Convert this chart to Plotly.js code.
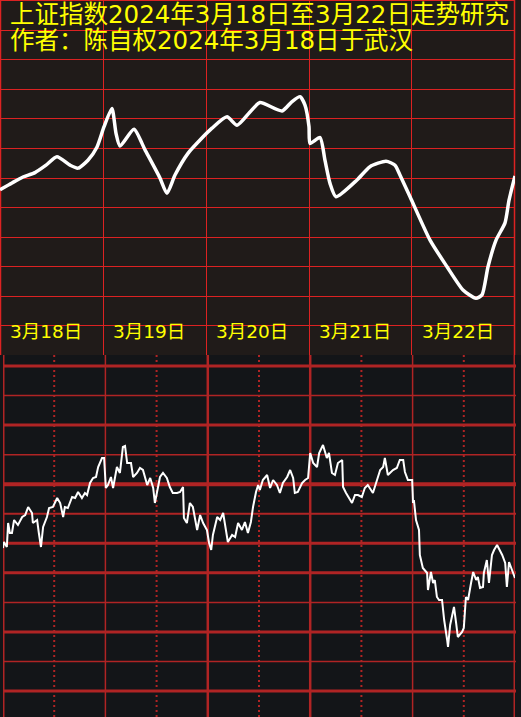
<!DOCTYPE html>
<html>
<head>
<meta charset="utf-8">
<script src="https://cdn.plot.ly/plotly-3.0.1.min.js"></script>
<style>html,body{margin:0;padding:0;background:#131518;}#chart{width:521px;height:717px;}</style>
</head>
<body>
<div id="chart"></div>
<script>
// ---- data ----
const titleLines = ['上证指数2024年3月18日至3月22日走势研究', '作者：陈自权2024年3月18日于武汉'];
const dateLabels = ['3月18日', '3月19日', '3月20日', '3月21日', '3月22日'];

// top panel: smoothed trend, x in trading days (0..5), y index level
const trendDays = [0, 0.117, 0.223, 0.340, 0.447, 0.553, 0.680, 0.757, 0.854, 0.942, 1.010, 1.087, 1.126, 1.165, 1.301, 1.408, 1.553, 1.621, 1.699, 1.825, 1.942, 2.058, 2.204, 2.301, 2.427, 2.524, 2.738, 2.835, 2.913, 2.961, 3.0, 3.010, 3.107, 3.155, 3.204, 3.262, 3.466, 3.592, 3.748, 3.835, 3.883, 3.981, 4.175, 4.340, 4.495, 4.621, 4.680, 4.738, 4.816, 4.903, 4.942, 5.0];
const trendValues = [3063.5, 3064.9, 3066.1, 3067.0, 3068.5, 3070.2, 3068.5, 3067.9, 3069.5, 3072.2, 3076.3, 3080.0, 3075.0, 3072.4, 3075.8, 3071.6, 3065.9, 3062.8, 3066.5, 3070.9, 3073.6, 3076.0, 3078.3, 3076.6, 3079.3, 3081.2, 3079.5, 3081.4, 3082.4, 3080.7, 3076.3, 3072.9, 3074.1, 3069.5, 3064.8, 3062.1, 3065.5, 3068.2, 3069.3, 3068.5, 3066.5, 3062.1, 3053.3, 3047.9, 3043.2, 3041.5, 3042.2, 3047.9, 3053.3, 3056.8, 3061.4, 3066.3];

// bottom panel: intraday, x in trading minutes (0..1200), y index level
const minuteIdx = [0, 2, 9, 12, 16, 21, 26, 35, 45, 52, 59, 68, 70, 80, 84, 89, 94, 103, 108, 117, 127, 134, 141, 145, 152, 162, 169, 176, 185, 192, 197, 204, 211, 218, 223, 232, 237,
  241, 246, 253, 258, 267, 274, 281, 286, 291, 300, 305, 314, 321, 328, 338, 345, 352, 356, 361, 368, 375, 384, 391, 398, 408, 415, 422, 424, 431, 438, 445, 455, 462, 469, 478,
  483, 488, 492, 502, 509, 516, 523, 527, 537, 544, 551, 560, 567, 574, 581, 586, 593, 598, 602, 609, 619, 626, 633, 642, 649, 656, 666, 673, 680, 684, 691, 701, 708, 715,
  720, 727, 736, 741, 750, 759, 764, 771, 778, 785, 795, 797, 804, 809, 818, 825, 832, 841, 848, 855, 867, 884, 891, 895, 902, 914, 923, 930, 938, 942, 949, 959,
  961, 963, 968, 975, 977, 984, 994, 996, 1003, 1008, 1012, 1017, 1022, 1029, 1034, 1041, 1043, 1048, 1055, 1057, 1062, 1066, 1076, 1080, 1085, 1090, 1097, 1102, 1109, 1113, 1118, 1125, 1127, 1134, 1139, 1146, 1151, 1158, 1170, 1177, 1181, 1186, 1193, 1200];
const minuteValues = [3060.25, 3061.75, 3060.5, 3066.5, 3064, 3064, 3067.25, 3066, 3068, 3068.5, 3070.5, 3069, 3066.5, 3067.25, 3064, 3060.5, 3065.5, 3068, 3070.25, 3070.5, 3072.75, 3071.5, 3068, 3070.5, 3070.25, 3073, 3072.75, 3074.25, 3072.75, 3074, 3073.5, 3076.5, 3077.75, 3078, 3080.5, 3082.75, 3082.75,
  3075.25, 3076, 3078, 3075.25, 3080.5, 3079, 3085.5, 3085.75, 3081.5, 3081.5, 3078, 3079, 3080.25, 3079.75, 3076, 3077.75, 3075.25, 3071.5, 3074.25, 3078, 3079, 3077.75, 3075.5, 3074, 3074, 3074.25, 3075.5, 3067.75, 3066.5, 3071.5, 3070.5, 3064.75, 3068.5, 3066.5, 3064.75,
  3061.5, 3059.75, 3063.5, 3068, 3067.25, 3069, 3064.25, 3061.75, 3063.5, 3063, 3066.5, 3064.75, 3066.75, 3064, 3066.75, 3070.5, 3074.25, 3076, 3074.75, 3077.25, 3078.5, 3075.25, 3077.25, 3076, 3074, 3076.5, 3078, 3079.75, 3077.75, 3074, 3074.25, 3076.5, 3077.25, 3077.75,
  3084, 3081.5, 3080.5, 3084, 3086, 3082.75, 3084, 3079, 3078.5, 3081.5, 3082.25, 3075.5, 3074, 3073, 3071.5, 3073.5, 3073.5, 3073, 3075.25, 3076, 3074, 3079.75, 3080.5, 3082.75, 3078.5, 3079.75, 3080.25, 3082.25, 3082.25, 3079.25, 3077.25, 3077.25,
  3071.5, 3072.25, 3067.25, 3064.75, 3058.5, 3055.25, 3054, 3049.75, 3054.25, 3051.5, 3052.25, 3048, 3047.25, 3047.25, 3042.25, 3037.25, 3035.5, 3041, 3044, 3045.5, 3041.5, 3038, 3039.25, 3040.25, 3048, 3047.25, 3051.5, 3054.25, 3052.25, 3053, 3050.25, 3050.5, 3054, 3057.25, 3051.5, 3058.5, 3059.75, 3061, 3058.5, 3056.5, 3050.5, 3056.75, 3054.75, 3052.75];

// ---- layout ----
const W = 521, H = 717;
const splitPx = 355;
const split = 1 - splitPx / H;
const px = v => v / W;
const py = v => 1 - v / H;

const shapes = [];
// panel backgrounds
shapes.push({type: 'rect', xref: 'paper', yref: 'paper', x0: 0, x1: 1, y0: split, y1: 1, fillcolor: '#201b19', line: {width: 0}, layer: 'below'});
shapes.push({type: 'rect', xref: 'paper', yref: 'paper', x0: 0, x1: 1, y0: 0, y1: split, fillcolor: '#131518', line: {width: 0}, layer: 'below'});

// top panel grid and borders
const topRed = '#dc2222';
for (let k = 1; k <= 11; k++) {
  const yy = 355 - k * 29.58;
  shapes.push({type: 'line', xref: 'paper', yref: 'paper', x0: 0, x1: px(515), y0: py(Math.round(yy) + 0.5), y1: py(Math.round(yy) + 0.5), line: {color: topRed, width: 1}, layer: 'below'});
}
[0.5, 103.5, 206.5, 309.5, 411.5, 514.5].forEach(xx => {
  shapes.push({type: 'line', xref: 'paper', yref: 'paper', x0: px(xx), x1: px(xx), y0: split, y1: 1, line: {color: topRed, width: xx < 1 || xx > 514 ? 1.5 : 1}, layer: 'below'});
});
shapes.push({type: 'line', xref: 'paper', yref: 'paper', x0: 0, x1: px(515), y0: py(0.5), y1: py(0.5), line: {color: topRed, width: 1}, layer: 'below'});

// bottom panel grid
const botRed = '#b02424';
const hWidths = [3, 1.5, 3, 1.5, 4, 2, 3, 3, 1.5, 3, 1.5, 3];
hWidths.forEach((w, i) => {
  const y = 366 + i * 29.55;
  shapes.push({type: 'line', xref: 'paper', yref: 'paper', x0: px(3), x1: px(516), y0: py(y), y1: py(y), line: {color: botRed, width: w}, layer: 'below'});
});
const vSolid = [[0, 3], [240, 1.5], [480, 2.5], [720, 2.5], [960, 1.5], [1200, 3]];
vSolid.forEach(([m, w]) => {
  shapes.push({type: 'line', xref: 'x2', yref: 'paper', x0: m, x1: m, y0: 0, y1: split, line: {color: botRed, width: w}, layer: 'below'});
});
[120, 360, 600, 840, 1080].forEach(m => {
  shapes.push({type: 'line', xref: 'x2', yref: 'paper', x0: m, x1: m, y0: 0, y1: split, line: {color: botRed, width: 2, dash: '2px,3px'}, layer: 'below'});
});

const annotations = [];
const yellow = '#ffff00';
const textFamily = 'DejaVu Sans, Noto Sans CJK SC';
titleLines.forEach((t, i) => {
  annotations.push({text: t, xref: 'paper', yref: 'paper', x: px(9), y: py(i === 0 ? 14.5 : 40.5), xanchor: 'left', yanchor: 'middle', showarrow: false,
    borderpad: 0, font: {family: textFamily, size: 24.5, color: yellow}});
});
dateLabels.forEach((t, i) => {
  annotations.push({text: t, xref: 'x', yref: 'paper', x: i + 0.08, y: py(331), xanchor: 'left', yanchor: 'middle', showarrow: false,
    font: {family: textFamily, size: 18.5, color: yellow}});
});

const traces = [
  {x: trendDays, y: trendValues, xaxis: 'x', yaxis: 'y', type: 'scatter', mode: 'lines',
   line: {color: '#ffffff', width: 3.5, shape: 'spline', smoothing: 0.6}, hoverinfo: 'skip'},
  {x: minuteIdx, y: minuteValues, xaxis: 'x2', yaxis: 'y2', type: 'scatter', mode: 'lines',
   line: {color: '#ffffff', width: 2}, hoverinfo: 'skip'}
];

const hidden = {showticklabels: false, ticks: '', zeroline: false, showline: false, showgrid: false, fixedrange: true};
const layout = {
  width: W, height: H,
  margin: {l: 0, r: 0, t: 0, b: 0, pad: 0},
  paper_bgcolor: '#131518',
  plot_bgcolor: 'rgba(0,0,0,0)',
  showlegend: false,
  xaxis: Object.assign({}, hidden, {domain: [0, px(515)], range: [0, 5], anchor: 'y'}),
  yaxis: Object.assign({}, hidden, {domain: [split, 1], range: [3030, 3102], anchor: 'x'}),
  xaxis2: Object.assign({}, hidden, {domain: [px(3), px(515)], range: [0, 1200], anchor: 'y2'}),
  yaxis2: Object.assign({}, hidden, {domain: [0, split], range: [3018, 3108.5], anchor: 'x2'}),
  shapes: shapes,
  annotations: annotations
};

Plotly.newPlot('chart', traces, layout, {displayModeBar: false, staticPlot: true});
</script>
</body>
</html>
